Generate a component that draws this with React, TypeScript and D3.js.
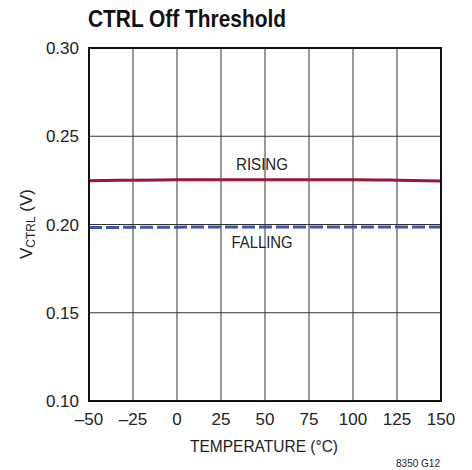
import React from "react";
import * as d3 from "d3";

const temps = [-50, -25, 0, 25, 50, 75, 100, 125, 150];
const rising = [0.2248, 0.2251, 0.2253, 0.2254, 0.2254, 0.2254, 0.2254, 0.2251, 0.2246];
const falling = [0.1983, 0.1984, 0.1985, 0.1986, 0.1986, 0.1986, 0.1986, 0.1986, 0.1986];
const xTicks = [-50, -25, 0, 25, 50, 75, 100, 125, 150];
const yTicks = [0.1, 0.15, 0.2, 0.25, 0.3];

const W = 472, H = 470;
const m = { left: 89, right: 441, top: 48, bottom: 401 };
const FONT = "'Liberation Sans Narrow', 'Arial Narrow', 'Liberation Sans', sans-serif";

export default function App() {
  const x = d3.scaleLinear().domain([-50, 150]).range([m.left, m.right]);
  const y = d3.scaleLinear().domain([0.1, 0.3]).range([m.bottom, m.top]);
  const line = d3.line<number>().x((_, i) => x(temps[i])).y((d) => y(d)).curve(d3.curveMonotoneX);
  return (
    <svg width={W} height={H} style={{ position: "absolute", left: 0, top: 0 }} fontFamily={FONT}>
      <rect width={W} height={H} fill="#fff" />
      <text x={88} y={27} fontSize={24} fontWeight="bold" fill="#111" textLength={198} lengthAdjust="spacingAndGlyphs">CTRL Off Threshold</text>
      {xTicks.slice(1, -1).map((t) => (
        <line key={"gx" + t} x1={x(t)} x2={x(t)} y1={m.top} y2={m.bottom} stroke="#333" strokeWidth={1} />
      ))}
      {yTicks.slice(1, -1).map((t) => (
        <line key={"gy" + t} x1={m.left} x2={m.right} y1={y(t)} y2={y(t)} stroke="#333" strokeWidth={1} />
      ))}
      <path d={line(rising) || ""} fill="none" stroke="#9e1638" strokeWidth={3} />
      <path d={line(falling) || ""} fill="none" stroke="#3a56a8" strokeWidth={3} strokeDasharray="13,4" />
      <rect x={m.left} y={m.top} width={m.right - m.left} height={m.bottom - m.top} fill="none" stroke="#111" strokeWidth={2} />
      <text x={262} y={170} fontSize={17} textAnchor="middle" fill="#222" textLength={52} lengthAdjust="spacingAndGlyphs">RISING</text>
      <text x={262} y={248} fontSize={17} textAnchor="middle" fill="#222" textLength={61} lengthAdjust="spacingAndGlyphs">FALLING</text>
      {yTicks.map((t) => (
        <text key={"yl" + t} x={79} y={y(t) + 6} fontSize={17} textAnchor="end" fill="#222">{t.toFixed(2)}</text>
      ))}
      {xTicks.map((t) => (
        <text key={"xl" + t} x={x(t)} y={425} fontSize={17} textAnchor="middle" fill="#222">{t < 0 ? "\u2013" + Math.abs(t) : t}</text>
      ))}
      <text x={264} y={452} fontSize={17} textAnchor="middle" fill="#222" textLength={148} lengthAdjust="spacingAndGlyphs">TEMPERATURE (°C)</text>
      <text transform={`translate(32,224) rotate(-90)`} fontSize={17} textAnchor="middle" fill="#222">
        V<tspan fontSize={12} dy={3}>CTRL</tspan><tspan dy={-3}> (V)</tspan>
      </text>
      <text x={440} y={467} fontSize={10} textAnchor="end" fill="#222">8350 G12</text>
    </svg>
  );
}
